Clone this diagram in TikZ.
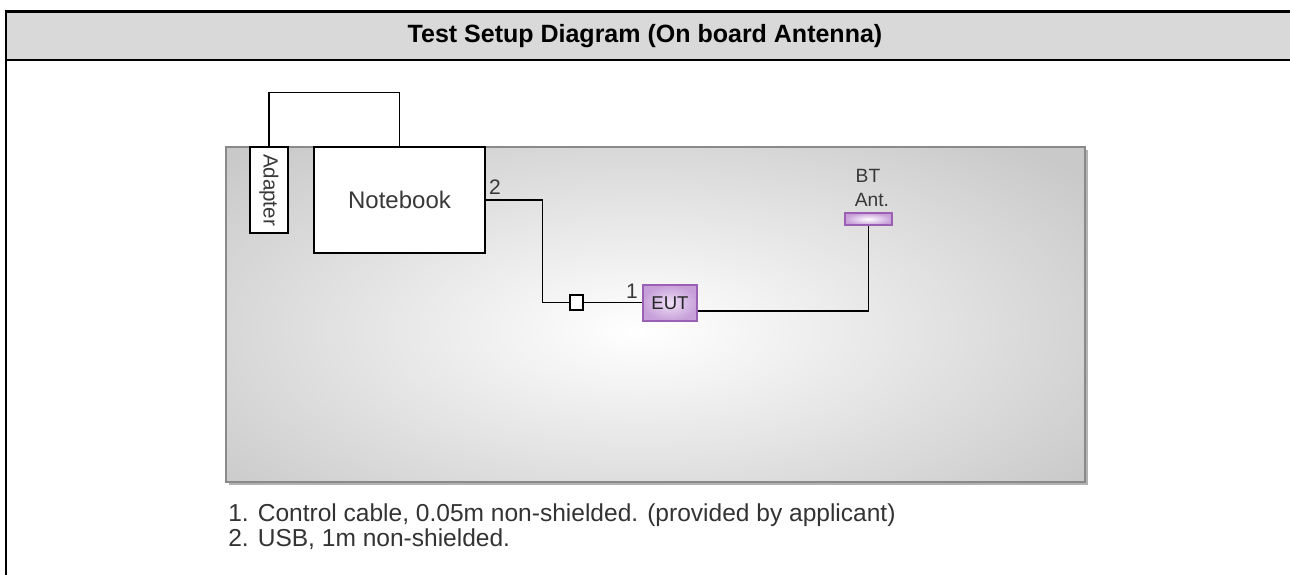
\documentclass[tikz,border=0pt]{standalone}
\usepackage{fontspec}
\setmainfont{Liberation Sans}
\newcommand\PX{0.75pt}
\definecolor{hdr}{HTML}{D9D9D9}
\definecolor{panelgray}{HTML}{C9C9C9}
\definecolor{panelline}{HTML}{8A8A8A}
\definecolor{purpleline}{HTML}{9B5FB3}
\definecolor{purplein}{HTML}{EEDFF5}
\definecolor{purpleout}{HTML}{C7A0DA}
\definecolor{txtgray}{HTML}{383838}
\tikzset{
  boxw/.style={draw=black, line width=1.1pt, fill=white, inner sep=0pt},
  boxp/.style={draw=purpleline, line width=1.1pt, inner sep=0pt, inner color=purplein, outer color=purpleout},
  cable/.style={line width=1.1pt, black},
  lbl/.style={inner sep=0pt, text=txtgray}
}
\begin{document}
\begin{tikzpicture}[x=0.75pt,y=-0.75pt]
\useasboundingbox (0,0) rectangle (1290,575);
% header
\fill[hdr] (6,11) rectangle (1290,60);
\draw[line width=2pt] (4.5,11.3) -- (1290,11.3);
\draw[line width=1.5pt] (6,60) -- (1290,60);
\draw[line width=2pt] (6,10) -- (6,575);
\node[inner sep=0pt, font=\bfseries\fontsize{18.75pt}{22pt}\selectfont] (title) at (645,36) {Test Setup Diagram (On board Antenna)};
% panel
\fill[black!30] (229,150) rectangle (1088,485);
\fill[panelgray] (226,147) rectangle (1085,482);
\begin{scope}
\clip (226,147) rectangle (1085,482);
\shade[inner color=white, outer color=panelgray] (640,330) ellipse (560 and 250);
\end{scope}
\draw[panelline, line width=1.3pt] (226,147) rectangle (1085,482);
% boxes
\node[boxw, minimum width=38*\PX, minimum height=86*\PX] (adapter) at (269,190) {};
\node[lbl, rotate=-90, font=\fontsize{15.4pt}{18pt}\selectfont] at (adapter.center) {Adapter};
\node[boxw, minimum width=171*\PX, minimum height=106*\PX, font=\fontsize{18pt}{21pt}\selectfont, text=txtgray] (notebook) at (399.5,200) {Notebook};
\node[boxw, line width=1pt, minimum width=13*\PX, minimum height=15*\PX] (jbox) at (576.5,302.5) {};
\node[boxp, minimum width=54*\PX, minimum height=36*\PX, font=\fontsize{13.9pt}{16pt}\selectfont, text=black!85] (eut) at (670,303) {\raisebox{-2pt}{EUT}};
\node[boxp, inner color=white, minimum width=47*\PX, minimum height=12*\PX] (ant) at (868.5,219) {};
% labels
\node[lbl, font=\fontsize{15.75pt}{18pt}\selectfont] (l2) at (495,187) {2};
\node[lbl, font=\fontsize{15.75pt}{18pt}\selectfont] (l1) at (632,291) {1};
\node[lbl, font=\fontsize{14.4pt}{17pt}\selectfont] (bt) at (868,176) {BT};
\node[lbl, font=\fontsize{14.4pt}{17pt}\selectfont] (antl) at (872,200) {Ant.};
% connectors
\draw[cable] (adapter.north) -- ++(0,-54) -| (notebook.north);
\draw[cable] (notebook.east) -- ++(57,0) |- (jbox.west);
\draw[cable] (jbox.east) -- (eut.west |- jbox.east);
\draw[cable] ([yshift=-6pt]eut.east) -| (ant.south);
% notes
\node[lbl, anchor=base west, font=\fontsize{18.4pt}{22pt}\selectfont, text=black!80] (n1) at (228,521) {1. Control cable, 0.05m non-shielded. (provided by applicant)};
\node[lbl, anchor=base west, font=\fontsize{18.4pt}{22pt}\selectfont, text=black!80] (n2) at (228,546) {2. USB, 1m non-shielded.};
\end{tikzpicture}
\end{document}
